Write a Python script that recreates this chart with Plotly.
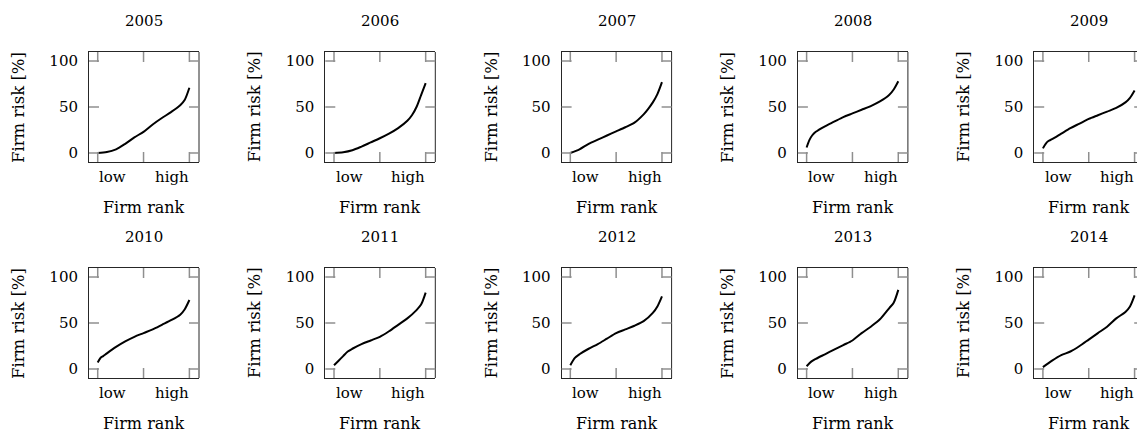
import plotly.graph_objects as go

# ---------------- data ----------------
years = ["2005", "2006", "2007", "2008", "2009",
         "2010", "2011", "2012", "2013", "2014"]

x_2005 = [0, 0.1, 0.2, 0.3, 0.4, 0.5, 0.6, 0.7, 0.8, 0.9, 0.95, 1.0]
y_2005 = [0, 1, 4, 10, 17, 23, 31, 38, 44.5, 52, 58, 71]

x_2006 = [0, 0.1, 0.2, 0.3, 0.4, 0.5, 0.6, 0.7, 0.8, 0.85, 0.9, 0.95, 1.0]
y_2006 = [0, 0.8, 3, 7, 11.5, 16, 21, 27, 35, 41, 50, 63, 76]

x_2007 = [0, 0.1, 0.2, 0.3, 0.4, 0.5, 0.6, 0.7, 0.8, 0.85, 0.9, 0.95, 1.0]
y_2007 = [0, 4, 10, 14.5, 19, 23.5, 28, 33, 42, 48, 55, 64, 77]

x_2008 = [0, 0.03, 0.06, 0.1, 0.2, 0.3, 0.4, 0.5, 0.6, 0.7, 0.8, 0.9, 0.95, 1.0]
y_2008 = [6, 14, 19, 23, 29, 34, 39, 43, 47, 51, 56, 63, 69, 78]

x_2009 = [0, 0.03, 0.06, 0.1, 0.2, 0.3, 0.4, 0.5, 0.6, 0.7, 0.8, 0.9, 0.95, 1.0]
y_2009 = [5, 10, 13, 15, 21, 27, 32, 37, 41, 45, 49, 55, 60, 68]

x_2010 = [0, 0.03, 0.06, 0.1, 0.2, 0.3, 0.4, 0.5, 0.6, 0.7, 0.8, 0.9, 0.95, 1.0]
y_2010 = [7, 12, 14, 17, 24, 30, 35, 39, 43, 48, 53, 59, 65, 75]

x_2011 = [0, 0.05, 0.1, 0.15, 0.2, 0.3, 0.4, 0.5, 0.6, 0.7, 0.8, 0.9, 0.95, 1.0]
y_2011 = [4, 9, 14, 19, 22, 27, 31, 35, 41, 48, 55, 64, 70, 83]

x_2012 = [0, 0.05, 0.1, 0.2, 0.3, 0.4, 0.5, 0.6, 0.7, 0.8, 0.9, 0.95, 1.0]
y_2012 = [4, 12, 16, 22, 27, 33, 39, 43, 47, 52, 61, 68, 79]

x_2013 = [0, 0.05, 0.1, 0.2, 0.3, 0.4, 0.5, 0.6, 0.7, 0.8, 0.9, 0.95, 1.0]
y_2013 = [3, 8, 11, 16, 21, 26, 31, 39, 46, 54, 66, 72, 86]

x_2014 = [0, 0.1, 0.2, 0.3, 0.4, 0.5, 0.6, 0.7, 0.8, 0.9, 0.95, 1.0]
y_2014 = [2, 9, 15, 19, 25, 32, 39, 46, 55, 62, 68, 80]

xs = [x_2005, x_2006, x_2007, x_2008, x_2009, x_2010, x_2011, x_2012, x_2013, x_2014]
ys = [y_2005, y_2006, y_2007, y_2008, y_2009, y_2010, y_2011, y_2012, y_2013, y_2014]

x_rank_ticks = [0, 0.5, 1]
x_label_pos = [0.165, 0.81]
x_label_text = ["low", "high"]
y_ticks = [0, 50, 100]
x_title = "Firm rank"
y_title = "Firm risk [%]"

# ---------------- layout geometry ----------------
W, H = 1137, 432
FONT = "DejaVu Serif"
col_left = [89 + 236.3 * c for c in range(5)]
row_top = [52, 268]
box_w, box_h = 110, 110
x_lo = -0.095
px_per_x = box_w / 1.2  # range width 1.2 over 110 px
TICK_GRAY = "#8f8f8f"
LINE_COL = "#262626"
TICK_LEN = 10
TICK_W = 1.5

fig = go.Figure()
layout = dict(
    width=W, height=H,
    margin=dict(l=0, r=0, t=0, b=0),
    paper_bgcolor="white", plot_bgcolor="white",
    showlegend=False,
    font=dict(family=FONT, size=15, color="black"),
)
annotations = []
shapes = []

for i in range(10):
    r, c = divmod(i, 5)
    sfx = "" if i == 0 else str(i + 1)
    left = col_left[c]
    right = min(left + box_w, W)
    wpx = right - left
    top = row_top[r]
    bottom = top + box_h
    x_hi = x_lo + wpx / px_per_x
    last_col = right >= W

    fig.add_trace(go.Scatter(
        x=xs[i], y=ys[i], mode="lines",
        line=dict(color="black", width=2, shape="spline", smoothing=0.8),
        xaxis=f"x{sfx}", yaxis=f"y{sfx}", hoverinfo="skip",
    ))

    layout[f"xaxis{sfx}"] = dict(
        domain=[left / W, right / W],
        range=[x_lo, x_hi],
        anchor=f"y{sfx}",
        showline=True, linecolor=LINE_COL, linewidth=1,
        mirror=True,
        showgrid=False, zeroline=False,
        showticklabels=False, ticks="",
        fixedrange=True,
    )
    layout[f"yaxis{sfx}"] = dict(
        domain=[1 - bottom / H, 1 - top / H],
        range=[-9.8, 109.8],
        anchor=f"x{sfx}",
        showline=True, linecolor=LINE_COL, linewidth=1,
        mirror=False,
        showgrid=False, zeroline=False,
        tickmode="array", tickvals=y_ticks,
        ticks="", ticklabelstandoff=7,
        tickfont=dict(family=FONT, size=15, color="black"),
        fixedrange=True,
    )
    if last_col:
        # right border falls outside the picture: draw only the left border
        pass
    else:
        shapes.append(dict(
            type="line", xref=f"x{sfx} domain", yref=f"y{sfx} domain",
            x0=1, x1=1, y0=0, y1=1,
            line=dict(color=LINE_COL, width=1), layer="above",
        ))

    xref = f"x{sfx} domain"
    xdref = f"x{sfx}"
    yref = f"y{sfx} domain"
    ydref = f"y{sfx}"
    # rank tick marks (bottom and top, pointing inward)
    for tv in x_rank_ticks:
        for y0, y1 in ((0, TICK_LEN / box_h), (1 - TICK_LEN / box_h, 1)):
            shapes.append(dict(
                type="line", xref=xdref, yref=yref,
                x0=tv, x1=tv, y0=y0, y1=y1,
                line=dict(color=TICK_GRAY, width=TICK_W), layer="above",
            ))
    # risk tick marks (left and right, pointing inward)
    for tv in y_ticks:
        for x0, x1 in ((0, TICK_LEN / wpx), (1 - TICK_LEN / box_w * box_w / wpx
                                              if not last_col else (box_w - TICK_LEN) / wpx,
                                              1 if not last_col else box_w / wpx)):
            if x0 >= 1:
                continue
            shapes.append(dict(
                type="line", xref=xref, yref=ydref,
                x0=x0, x1=min(x1, 1), y0=tv, y1=tv,
                line=dict(color=TICK_GRAY, width=TICK_W), layer="above",
            ))
    for pos, txt in zip(x_label_pos, x_label_text):
        annotations.append(dict(
            text=txt, xref=xdref, yref=yref,
            x=pos, y=-14.5 / box_h, showarrow=False,
            xanchor="center", yanchor="middle",
            font=dict(family=FONT, size=15, color="black"),
        ))
    annotations.append(dict(
        text=years[i], xref=xref, yref=yref,
        x=55 / wpx, y=1 + 31 / box_h, showarrow=False,
        xanchor="center", yanchor="middle",
        font=dict(family=FONT, size=15, color="black"),
    ))
    annotations.append(dict(
        text=x_title, xref=xref, yref=yref,
        x=55 / wpx, y=-45 / box_h, showarrow=False,
        xanchor="center", yanchor="middle",
        font=dict(family=FONT, size=16, color="black"),
    ))
    annotations.append(dict(
        text=y_title, xref=xref, yref=yref,
        x=-71 / wpx, y=0.5, showarrow=False, textangle=-90,
        xanchor="center", yanchor="middle",
        font=dict(family=FONT, size=16.5, color="black"),
    ))

layout["annotations"] = annotations
layout["shapes"] = shapes
fig.update_layout(**layout)
fig.write_html("out.html")
